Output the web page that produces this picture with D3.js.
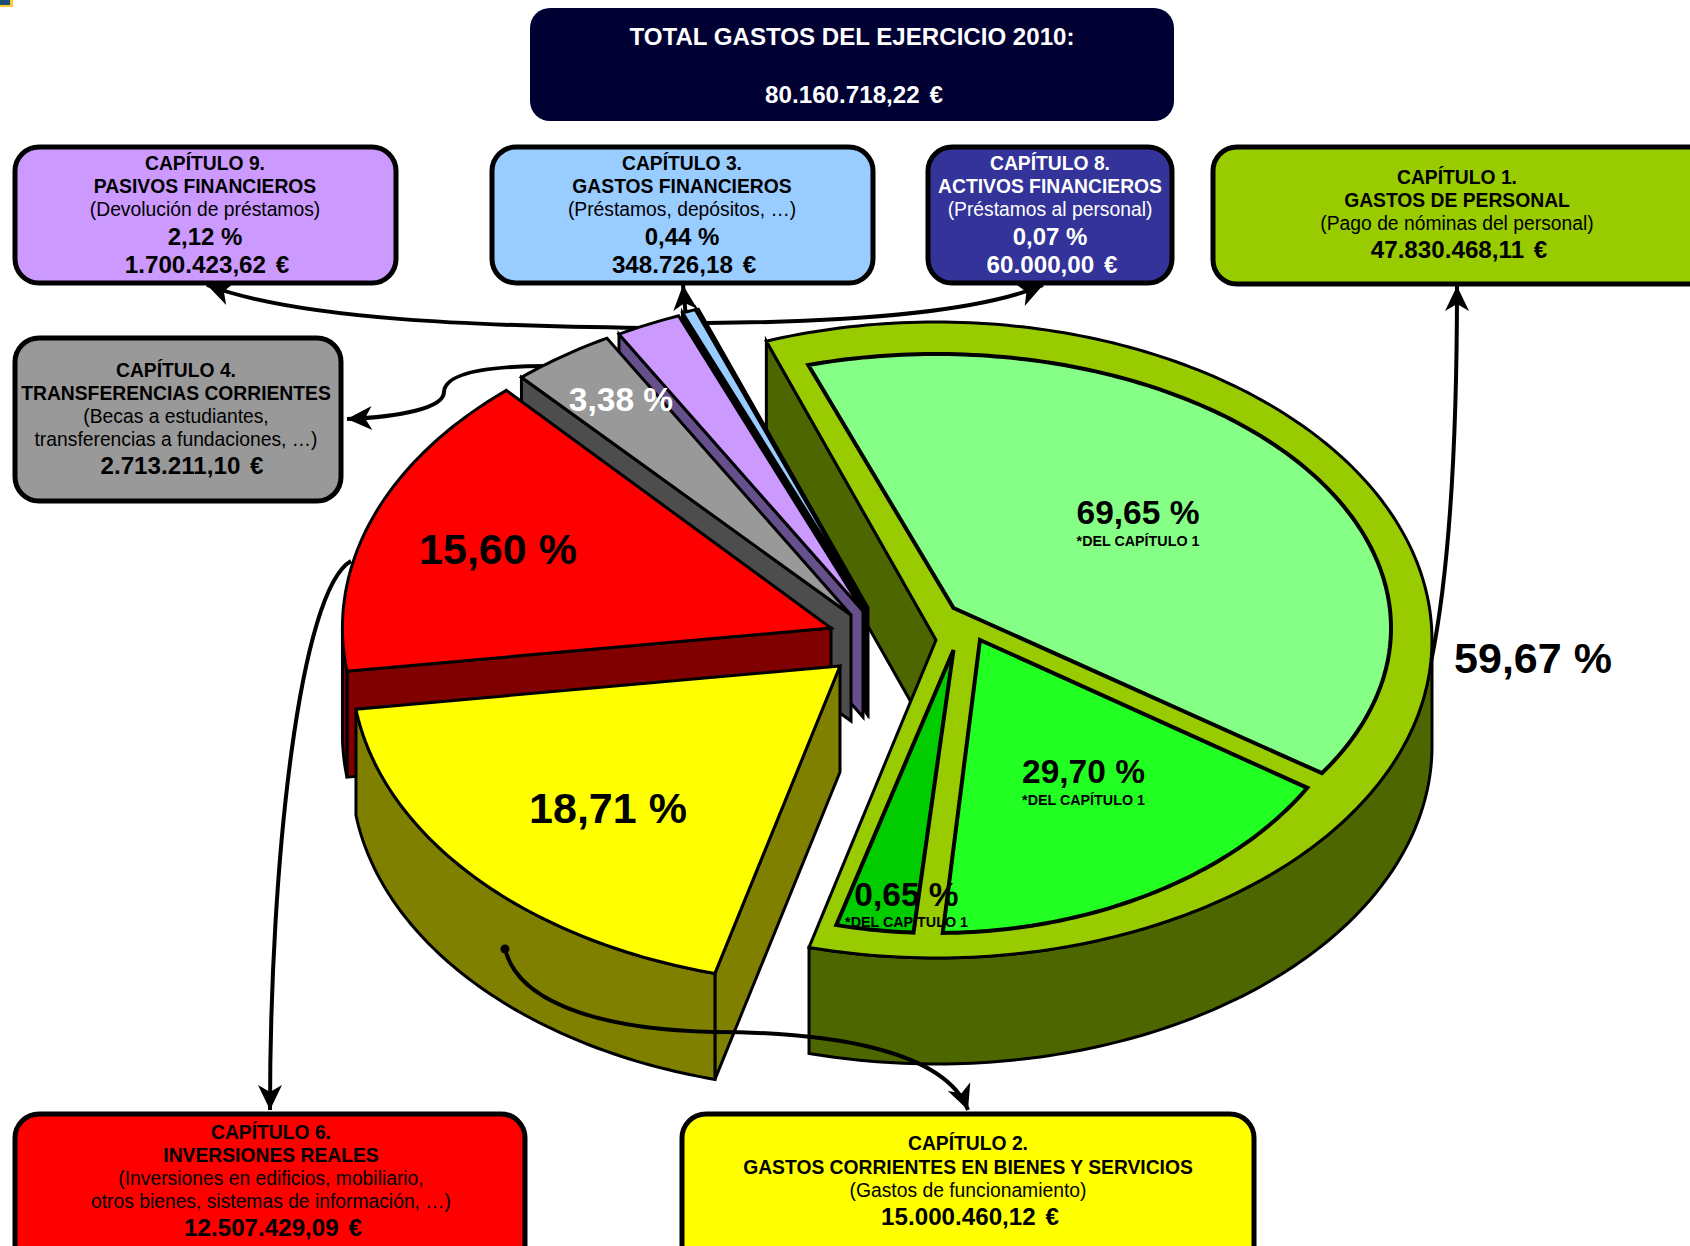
<!DOCTYPE html>
<html>
<head>
<meta charset="utf-8">
<script src="https://cdn.jsdelivr.net/npm/d3@7"></script>
<style>
    html, body { margin: 0; padding: 0; background: #fff; overflow: hidden; }
    text { font-family: "Liberation Sans", Arial, sans-serif; text-anchor: middle; }
</style>
</head>
<body>
<div id="chart"></div>
<script>
// values
const TOTAL_TITLE = 'TOTAL GASTOS DEL EJERCICIO 2010:';
const TOTAL_VALUE = '80.160.718,22 €';

// slices, clockwise starting from capitulo 1
const SLICE_IDS = ['cap1', 'cap2', 'cap6', 'cap4', 'cap9', 'cap3', 'cap8'];
const SLICE_PCTS = [59.67, 18.71, 15.60, 3.38, 2.12, 0.44, 0.07];

// breakdown of capitulo 1
const SUB_PCTS = [69.65, 29.70, 0.65];
const SUB_NOTE = '*DEL CAPÍTULO 1';

const BOX_HEADS = ['CAPÍTULO 1.', 'CAPÍTULO 2.', 'CAPÍTULO 6.', 'CAPÍTULO 4.', 'CAPÍTULO 9.', 'CAPÍTULO 3.', 'CAPÍTULO 8.'];
const BOX_NAMES = ['GASTOS DE PERSONAL', 'GASTOS CORRIENTES EN BIENES Y SERVICIOS', 'INVERSIONES REALES', 'TRANSFERENCIAS CORRIENTES', 'PASIVOS FINANCIEROS', 'GASTOS FINANCIEROS', 'ACTIVOS FINANCIEROS'];
const BOX_NOTES = [
    ['(Pago de nóminas del personal)'],
    ['(Gastos de funcionamiento)'],
    ['(Inversiones en edificios, mobiliario,', 'otros bienes, sistemas de información, …)'],
    ['(Becas a estudiantes,', 'transferencias a fundaciones, …)'],
    ['(Devolución de préstamos)'],
    ['(Préstamos, depósitos, …)'],
    ['(Préstamos al personal)']
];
const BOX_PCTS = [null, null, null, null, '2,12 %', '0,44 %', '0,07 %'];
const BOX_AMOUNTS = ['47.830.468,11 €', '15.000.460,12 €', '12.507.429,09 €', '2.713.211,10 €', '1.700.423,62 €', '348.726,18 €', '60.000,00 €'];

const fmt_pct = v => v.toFixed(2).replace('.', ',') + ' %';

// layout, nothing below here is data
const WIDTH = 1690, HEIGHT = 1246;
const CENTER = [936, 640];
const RX = 496, RY = 318, DEPTH = 106;
const START_ANGLE = -20;

const DEG = Math.PI / 180;

// k squeezes the ellipse sideways, the exploded slices are a bit narrower in the original
const SLICE_STYLE = {
    cap1: { off: [0, 0], k: 1, top: '#99CC00', side: '#4D6600' },
    cap2: { off: [-96, 26], k: 0.985, top: '#FFFF00', side: '#808000' },
    cap6: { off: [-105, -12], k: 0.985, top: '#FF0000', side: '#800000' },
    cap4: { off: [-85, -25], k: 1, top: '#999999', side: '#4D4D4D' },
    cap9: { off: [-73, -29], k: 1, top: '#CC99FF', side: '#66508C' },
    cap3: { off: [-69, -32], k: 1, top: '#99CCFF', side: '#000000' },
    cap8: { off: [-68, -32], k: 1, top: '#333399', side: '#000000' }
};
const PAINT_ORDER = ['cap1', 'cap8', 'cap3', 'cap9', 'cap4', 'cap6', 'cap2'];

const BOX_STYLE = {
    cap1: { x: 1213, y: 147, w: 520, h: 137, fill: '#99CC00', color: '#000', cx: 1457, dx: 2, base: [184, 207, 230, 257.5] },
    cap2: { x: 682, y: 1114, w: 572, h: 160, fill: '#FFFF00', color: '#000', cx: 968, dx: 2, base: [1150, 1174, 1197, 1224.5] },
    cap6: { x: 15, y: 1114, w: 510, h: 160, fill: '#FF0000', color: '#000', cx: 271, dx: 2, base: [1139, 1162, 1185, 1208, 1235.5] },
    cap4: { x: 15, y: 338, w: 326, h: 163, fill: '#999999', color: '#000', cx: 176, dx: 6, base: [377, 400, 423, 446, 473.5] },
    cap9: { x: 15, y: 147, w: 381, h: 136, fill: '#CC99FF', color: '#000', cx: 205, dx: 2, base: [170, 193, 216, 244.5, 272.5] },
    cap3: { x: 492, y: 147, w: 381, h: 136, fill: '#99CCFF', color: '#000', cx: 682, dx: 2, base: [170, 193, 216, 244.5, 272.5] },
    cap8: { x: 928, y: 147, w: 244, h: 136, fill: '#333399', color: '#fff', cx: 1050, dx: 2, base: [170, 193, 216, 244.5, 272.5] }
};

const svg = d3.select('#chart')
    .append('svg')
    .attr('width', WIDTH)
    .attr('height', HEIGHT);

svg.append('defs')
    .append('marker')
    .attr('id', 'head')
    .attr('markerUnits', 'userSpaceOnUse')
    .attr('viewBox', '-26 -13 28 26')
    .attr('markerWidth', 28)
    .attr('markerHeight', 26)
    .attr('refX', 0)
    .attr('refY', 0)
    .attr('orient', 'auto')
    .append('path')
    .attr('d', 'M0,0 L-25,-12 L-18,0 L-25,12 Z')
    .attr('fill', '#000');

// little logo remnant in the corner
svg.append('rect').attr('width', 13).attr('height', 7).attr('fill', '#FFC933');
svg.append('rect').attr('width', 10).attr('height', 5).attr('fill', '#1F4E79');

// connector lines, most of them go under the pie
const draw_connector = function (d, head = true) {
    const path = svg.append('path')
        .attr('d', d)
        .attr('fill', 'none')
        .attr('stroke', '#000')
        .attr('stroke-width', 4);
    if (head) path.attr('marker-end', 'url(#head)');
    return path;
};

draw_connector('M645,328 C480,326 300,320 207,285');
draw_connector('M706,323 C850,322 980,312 1043,285');
draw_connector('M686,318 L683,285');
draw_connector('M548,366 C490,366 445,372 444,392 C444,408 400,417 347,419');
draw_connector('M351,561 C300,590 270,860 270,1110');
draw_connector('M1431,662 C1452,560 1457,420 1457,286');

// pie scales, unit circle -> flattened ellipse
const x_scale = d3.scaleLinear().domain([-1, 1]).range([-RX, RX]);
const y_scale = d3.scaleLinear().domain([-1, 1]).range([-RY, RY]);

const pie = d3.pie()
    .sort(null)
    .value(d => d)
    .startAngle(START_ANGLE * DEG)
    .endAngle((START_ANGLE + 360) * DEG);

const slices = pie(SLICE_PCTS);
const line = d3.line();

const rim = (apex, k, angle) => [apex[0] + k * x_scale(Math.sin(angle)), apex[1] + y_scale(-Math.cos(angle))];

const arc_points = function (fn, a0, a1) {
    const n = Math.max(2, Math.ceil((a1 - a0) / (1 * DEG)));
    return d3.range(n + 1).map(i => fn(a0 + (a1 - a0) * i / n));
};

const face = (g, points, fill, width = 3) => g.append('path')
    .attr('d', line(points) + 'Z')
    .attr('fill', fill)
    .attr('stroke', '#000')
    .attr('stroke-width', width)
    .attr('stroke-linejoin', 'miter');

const down = p => [p[0], p[1] + DEPTH];

PAINT_ORDER.forEach(function (id) {
    const s = slices[SLICE_IDS.indexOf(id)];
    const style = SLICE_STYLE[id];
    const apex = [CENTER[0] + style.off[0], CENTER[1] + style.off[1]];
    const to_rim = a => rim(apex, style.k, a);
    const g = svg.append('g').attr('class', id);

    // radial walls, only the ones that face the viewer
    if (Math.sin(s.startAngle) < 0) {
        const r = to_rim(s.startAngle);
        face(g, [apex, r, down(r), down(apex)], style.side);
    }
    if (Math.sin(s.endAngle) > 0) {
        const r = to_rim(s.endAngle);
        face(g, [apex, r, down(r), down(apex)], style.side);
    }

    // outer wall between 90 and 270 degrees
    const w0 = Math.max(s.startAngle, 90 * DEG), w1 = Math.min(s.endAngle, 270 * DEG);
    if (w1 > w0) {
        const pts = arc_points(to_rim, w0, w1);
        face(g, pts.concat(pts.map(down).reverse()), style.side);
    }

    // top
    face(g, [apex].concat(arc_points(to_rim, s.startAngle, s.endAngle)), style.top);
});

// breakdown inside capitulo 1. The drawn angles are not proportional in the original,
// so shares go through a piecewise scale
const cum = d3.cumsum(SUB_PCTS);
const sub_angle = d3.scaleLinear()
    .domain([0, cum[0], cum[1], cum[2]])
    .range([-18.3, 121.15, 181.05, 195.4]);
const SUB_GAP = [[2, -0.85], [-0.85, 1.95], [1.95, 2]];
const SUB_APEX = [[953.5, 608], [980, 640], [953.5, 650]];
const SUB_ELLIPSE = [
    { c: [936, 628], rx: 455, ry: 274 },
    { c: [936, 640], rx: 430, ry: 293 },
    { c: [936, 640], rx: 430, ry: 293 }
];
const SUB_FILL = ['#85FF85', '#22FF22', '#00CC00'];

const g_sub = svg.append('g').attr('class', 'sub');
SUB_PCTS.forEach(function (v, i) {
    const e = SUB_ELLIPSE[i];
    const x_sub = d3.scaleLinear().domain([-1, 1]).range([-e.rx, e.rx]);
    const y_sub = d3.scaleLinear().domain([-1, 1]).range([-e.ry, e.ry]);
    const to_rim = a => [e.c[0] + x_sub(Math.sin(a)), e.c[1] + y_sub(-Math.cos(a))];
    const a0 = (sub_angle(i ? cum[i - 1] : 0) + SUB_GAP[i][0]) * DEG;
    const a1 = (sub_angle(cum[i]) - SUB_GAP[i][1]) * DEG;
    face(g_sub, [SUB_APEX[i]].concat(arc_points(to_rim, a0, a1)), SUB_FILL[i], 4);
});

// connector that runs over the pie
draw_connector('M505,949 C520,1010 620,1030 714,1032 C830,1032 945,1050 968,1110');
svg.append('circle').attr('cx', 505).attr('cy', 949).attr('r', 4.5).attr('fill', '#000');

// percent labels on the pie
const label = (x, y, str, size, color = '#000') => svg.append('text')
    .attr('x', x)
    .attr('y', y)
    .attr('font-size', size)
    .attr('font-weight', 'bold')
    .attr('fill', color)
    .text(str);

label(1533, 673, fmt_pct(SLICE_PCTS[0]), 43);
label(608, 823, fmt_pct(SLICE_PCTS[1]), 43);
label(498, 564, fmt_pct(SLICE_PCTS[2]), 43);
label(621, 411, fmt_pct(SLICE_PCTS[3]), 33.5, '#fff');

label(1138, 524, fmt_pct(SUB_PCTS[0]), 33.5);
label(1138, 546, SUB_NOTE, 14.3);
label(1083.5, 783, fmt_pct(SUB_PCTS[1]), 33.5);
label(1083.5, 805, SUB_NOTE, 14.3);
label(906.5, 906, fmt_pct(SUB_PCTS[2]), 33.5);
label(906.5, 927, SUB_NOTE, 14.3);

// total box
svg.append('rect')
    .attr('x', 530).attr('y', 8)
    .attr('width', 644).attr('height', 113)
    .attr('rx', 20)
    .attr('fill', '#000033');
label(852, 45, TOTAL_TITLE, 24.1, '#fff');
label(854, 103, TOTAL_VALUE, 24.2, '#fff').attr('word-spacing', 3);

// chapter boxes
SLICE_IDS.forEach(function (id, i) {
    const b = BOX_STYLE[id];
    svg.append('rect')
        .attr('x', b.x).attr('y', b.y)
        .attr('width', b.w).attr('height', b.h)
        .attr('rx', 24)
        .attr('fill', b.fill)
        .attr('stroke', '#000')
        .attr('stroke-width', 5);

    const rows = [
        { t: BOX_HEADS[i], size: 19.3, weight: 'bold' },
        { t: BOX_NAMES[i], size: 19.3, weight: 'bold' }
    ];
    BOX_NOTES[i].forEach(t => rows.push({ t: t, size: 19.3, weight: 'normal' }));
    if (BOX_PCTS[i]) rows.push({ t: BOX_PCTS[i], size: 24, weight: 'bold' });
    rows.push({ t: BOX_AMOUNTS[i], size: 24.2, weight: 'bold', amount: true });

    rows.forEach(function (r, j) {
        const t = svg.append('text')
            .attr('x', r.amount ? b.cx + b.dx : b.cx)
            .attr('y', b.base[j])
            .attr('font-size', r.size)
            .attr('font-weight', r.weight)
            .attr('fill', b.color)
            .text(r.t);
        if (r.amount) t.attr('word-spacing', 3);
    });
});
</script>
</body>
</html>
